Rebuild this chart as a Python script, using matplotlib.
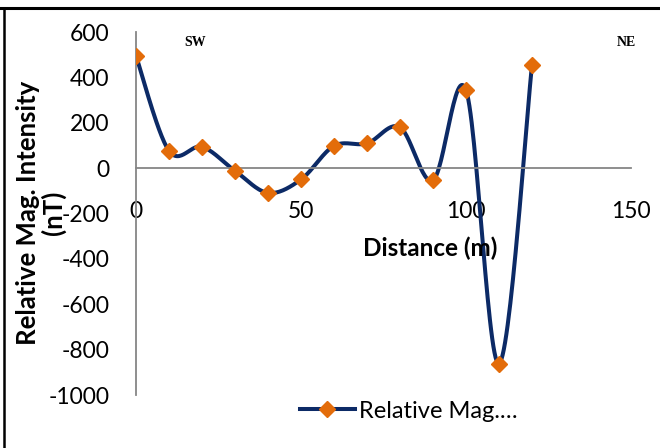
import numpy as np
import matplotlib.pyplot as plt

plt.rcParams['font.family'] = ['Lato', 'DejaVu Sans']

distance = [0, 10, 20, 30, 40, 50, 60, 70, 80, 90, 100, 110, 120]
intensity = [495, 76, 94, -12, -109, -50, 98, 109, 180, -54, 344, -862, 454]
x_ticks = [0, 50, 100, 150]
y_ticks = [600, 400, 200, 0, -200, -400, -600, -800, -1000]


def smooth(x, y, n=30):
    # excel-like smoothed line (catmull-rom through the points)
    x = np.asarray(x, float)
    y = np.asarray(y, float)
    px = np.concatenate([[x[0]], x, [x[-1]]])
    py = np.concatenate([[y[0]], y, [y[-1]]])
    xs, ys = [], []
    t = np.linspace(0, 1, n)
    for i in range(1, len(px) - 2):
        p0, p1, p2, p3 = (np.array([px[j], py[j]]) for j in range(i - 1, i + 3))
        c1 = p1 + (p2 - p0) / 6
        c2 = p2 - (p3 - p1) / 6
        b = ((1 - t) ** 3)[:, None] * p1 + (3 * (1 - t) ** 2 * t)[:, None] * c1 \
            + (3 * (1 - t) * t ** 2)[:, None] * c2 + (t ** 3)[:, None] * p2
        xs.extend(b[:, 0])
        ys.extend(b[:, 1])
    return xs, ys


fig = plt.figure(figsize=(6.6, 4.48), dpi=100)
ax = fig.add_axes([136 / 660, 1 - 395 / 448, (631 - 136) / 660, (395 - 32) / 448])

sx, sy = smooth(distance, intensity)
ax.plot(sx, sy, color='#0c2a66', lw=2.9, zorder=2)
ax.plot(distance, intensity, ls='none', marker='D', ms=8, color='#e36c0a', zorder=3)

ax.set_xlim(0, 150)
ax.set_ylim(-1000, 600)
ax.set_xticks(x_ticks)
ax.set_yticks(y_ticks)
ax.set_yticklabels([str(v) for v in y_ticks])
for s in ['top', 'right']:
    ax.spines[s].set_visible(False)
ax.spines['bottom'].set_position(('data', 0))
ax.spines['left'].set_position(('data', 0))
ax.spines['bottom'].set_color('#868686')
ax.spines['left'].set_color('#868686')
ax.spines['bottom'].set_linewidth(1.3)
ax.spines['left'].set_linewidth(1.3)
ax.tick_params(axis='x', length=0, pad=24, labelsize=16.5)
ax.tick_params(axis='y', length=0, pad=19, labelsize=16.5)

ax.text(430 / 660, 1 - 248 / 448, 'Distance (m)', transform=fig.transFigure, ha='center',
        va='center', fontsize=17.5, fontweight='bold')
fig.text(41 / 660, 1 - 213 / 448, 'Relative Mag. Intensity\n(nT)', rotation=90,
         ha='center', va='center', fontsize=18.5, fontweight='bold', linespacing=1.05)

fig.text(195 / 660, 1 - 42 / 448, 'SW', ha='center', va='center', fontsize=10,
         fontweight='bold', family='Liberation Serif')
fig.text(626 / 660, 1 - 42 / 448, 'NE', ha='center', va='center', fontsize=10,
         fontweight='bold', family='Liberation Serif')

leg = ax.legend(handles=[plt.Line2D([], [], color='#0c2a66', lw=2.9, marker='D', ms=8,
                                    mfc='#e36c0a', mec='#e36c0a')],
                labels=['Relative Mag.…'], loc='center', bbox_to_anchor=(409 / 660, 1 - 411 / 448),
                bbox_transform=fig.transFigure, frameon=False, fontsize=17,
                handlelength=2.3, handletextpad=0.2)

# chart frame: only top and left edges show in the crop
fig.add_artist(plt.Line2D([0, 1], [1 - 8 / 448] * 2, transform=fig.transFigure,
                          color='black', lw=2.2))
fig.add_artist(plt.Line2D([4 / 660] * 2, [0, 1 - 8 / 448], transform=fig.transFigure,
                          color='black', lw=1.8))

fig.savefig('out.png', dpi=100)
